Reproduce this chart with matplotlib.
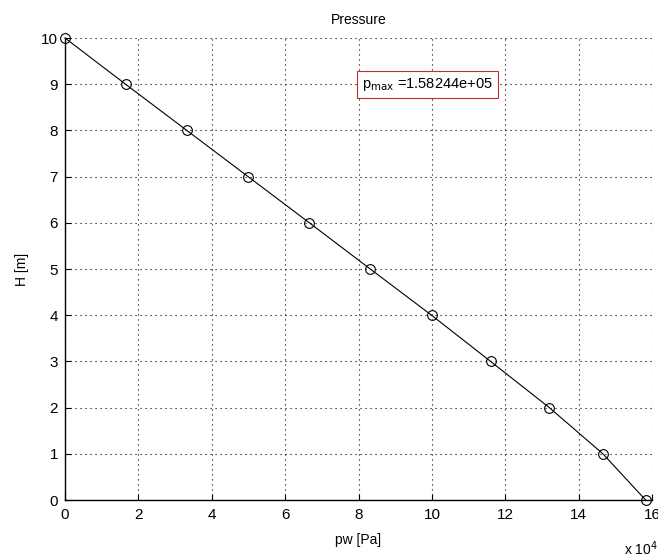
import matplotlib.pyplot as plt

plt.rcParams['font.family'] = ['Liberation Sans', 'DejaVu Sans']
plt.rcParams['font.size'] = 11

# data (pw in units of 1e4 Pa)
H = [10, 9, 8, 7, 6, 5, 4, 3, 2, 1, 0]
pw = [0.0, 1.65, 3.32, 4.99, 6.66, 8.32, 9.99, 11.6, 13.2, 14.66, 15.8244]
p_max = 1.58244e+05
x_ticks = [0, 2, 4, 6, 8, 10, 12, 14, 16]
y_ticks = [0, 1, 2, 3, 4, 5, 6, 7, 8, 9, 10]

fig = plt.figure(figsize=(6.58, 5.59), dpi=100)
ax = fig.add_axes([0.0988, 0.1055, 0.8922, 0.8265])

ax.plot(pw, H, color="black", linewidth=0.8, marker="o", markersize=7,
        markerfacecolor="none", markeredgecolor="black", markeredgewidth=0.8,
        clip_on=False, zorder=3)

ax.set_xlim(0, 16)
ax.set_ylim(0, 10)
ax.set_xticks(x_ticks)
ax.set_yticks(y_ticks)
ax.grid(True, color="black", linestyle=(0, (1, 3.5)), linewidth=0.8)
ax.tick_params(direction="in", length=4, width=0.8)
ax.tick_params(axis="x", pad=6)
ax.tick_params(axis="y", pad=5)
for s in ["top", "right"]:
    ax.spines[s].set_visible(False)
for s in ["left", "bottom"]:
    ax.spines[s].set_linewidth(1.0)

ax.set_title("Pressure", fontsize=10, pad=10)
ax.set_xlabel("pw [Pa]", fontsize=10, labelpad=8)
ax.set_ylabel("H [m]", fontsize=10, labelpad=9)
fig.text(0.948, 0.008, r"x 10$^{4}$", fontsize=10)

ax.text(8.1, 9.0, r"p$_{\mathrm{max}}$ =%.5e" % p_max, va="center", ha="left",
        fontsize=10.5,
        bbox=dict(boxstyle="square,pad=0.35", facecolor="white", edgecolor="#c03030",
                  linewidth=0.8), zorder=4)

plt.savefig("out.png", dpi=100)
